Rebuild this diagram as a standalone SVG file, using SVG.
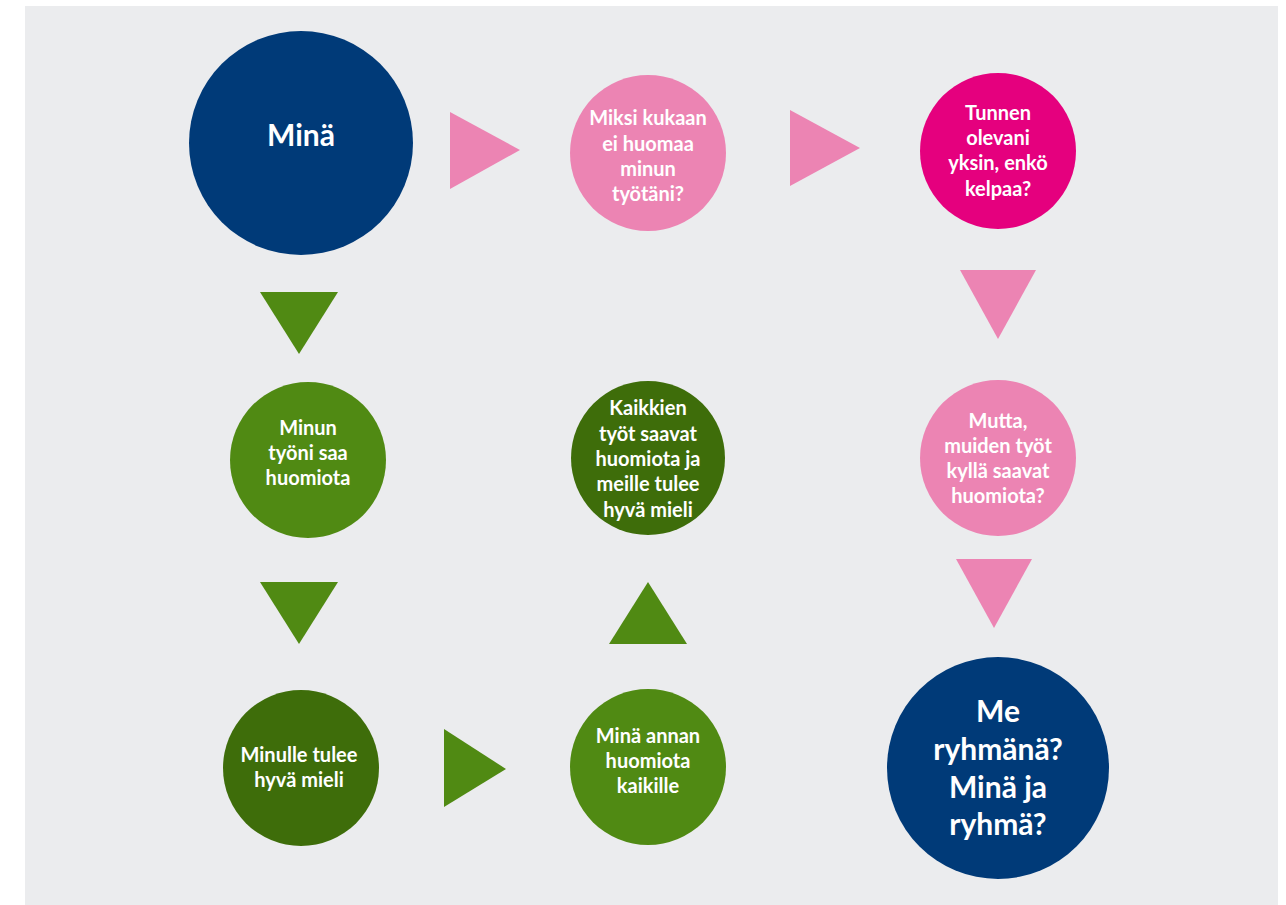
<svg xmlns="http://www.w3.org/2000/svg" width="1286" height="905" viewBox="0 0 1286 905">
<style>
.t{font-family:Lato,"Open Sans","Liberation Sans",sans-serif;font-weight:bold;fill:#fff;text-anchor:middle;font-size:20px}
.big{font-size:30px}
.navy{fill:#003a78}.pink{fill:#ec84b3}.mag{fill:#e5007e}.lg{fill:#508a13}.dg{fill:#3e6d0a}
</style>
<rect x="0" y="0" width="1286" height="905" fill="#fff"/>
<rect x="25" y="6" width="1253" height="899" fill="#ebecee"/>
<g id="connectors">
<polygon class="pink" points="450,112 450,189 520,150"/>
<polygon class="pink" points="790,110 790,186 860,148"/>
<polygon class="pink" points="960,270 1036,270 998,339"/>
<polygon class="pink" points="956,559 1032,559 994,628"/>
<polygon class="lg" points="260,292 338,292 299,354"/>
<polygon class="lg" points="260,582 338,582 299,644"/>
<polygon class="lg" points="444,729 444,807 506,769"/>
<polygon class="lg" points="609,644 687,644 648,582"/>
</g>
<g id="mina"><circle class="navy" cx="301" cy="143" r="112"/><text class="t" x="301" y="146" style="font-size:30px">Minä</text></g>
<g id="miksi"><circle class="pink" cx="648" cy="153" r="78"/>
<text class="t" x="648" y="125">Miksi kukaan</text><text class="t" x="648" y="151">ei huomaa</text><text class="t" x="648" y="176">minun</text><text class="t" x="648" y="201">työtäni?</text></g>
<g id="tunnen"><circle class="mag" cx="998" cy="151" r="78"/>
<text class="t" x="998" y="120">Tunnen</text><text class="t" x="998" y="145">olevani</text><text class="t" x="998" y="170">yksin, enkö</text><text class="t" x="998" y="196">kelpaa?</text></g>
<g id="mutta"><circle class="pink" cx="998" cy="458" r="78"/>
<text class="t" x="998" y="428">Mutta,</text><text class="t" x="998" y="453">muiden työt</text><text class="t" x="998" y="478">kyllä saavat</text><text class="t" x="998" y="503">huomiota?</text></g>
<g id="kaikkien"><circle class="dg" cx="648" cy="458" r="77"/>
<text class="t" x="648" y="415">Kaikkien</text><text class="t" x="648" y="441">työt saavat</text><text class="t" x="648" y="466">huomiota ja</text><text class="t" x="648" y="491">meille tulee</text><text class="t" x="648" y="517">hyvä mieli</text></g>
<g id="minun"><circle class="lg" cx="308" cy="460" r="78"/>
<text class="t" x="308" y="435">Minun</text><text class="t" x="308" y="460">työni saa</text><text class="t" x="308" y="485">huomiota</text></g>
<g id="minulle"><circle class="dg" cx="301" cy="768" r="78"/>
<text class="t" x="299" y="762">Minulle tulee</text><text class="t" x="299" y="787">hyvä mieli</text></g>
<g id="annan"><circle class="lg" cx="648" cy="767" r="78"/>
<text class="t" x="648" y="743">Minä annan</text><text class="t" x="648" y="768">huomiota</text><text class="t" x="648" y="793">kaikille</text></g>
<g id="me"><circle class="navy" cx="998" cy="768" r="111"/>
<text class="t big" x="998" y="722">Me</text><text class="t big" x="998" y="760">ryhmänä?</text><text class="t big" x="998" y="798">Minä ja</text><text class="t big" x="998" y="835">ryhmä?</text></g>
</svg>
